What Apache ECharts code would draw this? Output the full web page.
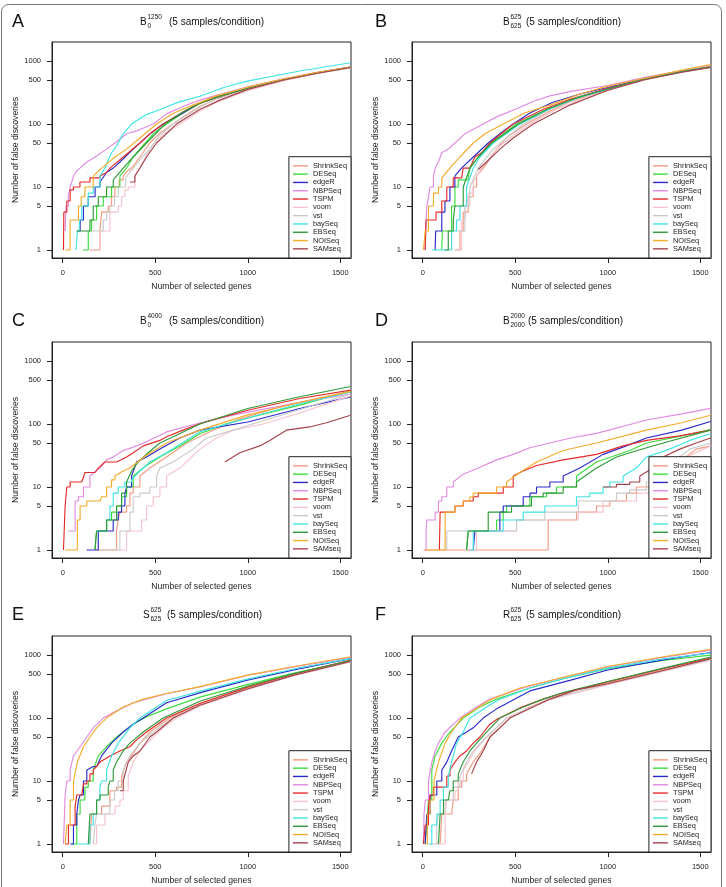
<!DOCTYPE html>
<html>
<head>
<meta charset="utf-8">
<script src="https://cdn.jsdelivr.net/npm/echarts@6/dist/echarts.min.js"></script>
<style>
  html, body { margin: 0; padding: 0; background: #fff; }
  #chart { width: 726px; height: 887px; }
</style>
</head>
<body>
<div id="chart"></div>
<script>
const METHODS = ['ShrinkSeq', 'DESeq', 'edgeR', 'NBPSeq', 'TSPM', 'voom', 'vst', 'baySeq', 'EBSeq', 'NOISeq', 'SAMseq'];
const COLORS = ['#F49A80', '#3BDC3B', '#2A2ACC', '#E28AE2', '#E52A2A', '#F8C3CC', '#CACACA', '#40E3E3', '#2F9A3A', '#F4AC2C', '#A5434A'];
const X_TICKS = [0, 500, 1000, 1500];
const Y_TICKS = [1, 5, 10, 50, 100, 500, 1000];

// [genes selected, false discoveries] knots per method, same order as METHODS
const panelA = [
  [[147,1],[201,2],[210,4],[246,5],[264,7],[282,10],[305,13],[327,15],[350,18],[372,20],[417,30],[471,50],[520,70],[597,100],[650,130],[740,190],[830,250],[920,310],[1000,360],[1190,500],[1370,640],[1556,790]],
  [[108,1],[138,2],[156,3],[183,5],[219,7],[264,10],[309,15],[345,20],[381,30],[417,40],[489,70],[561,100],[650,150],[740,210],[830,265],[1000,365],[1190,505],[1370,645],[1556,785]],
  [[80,2],[94,3],[112,5],[138,7],[175,10],[201,12],[237,17],[273,20],[309,25],[381,40],[471,70],[543,100],[650,150],[740,215],[830,265],[1000,370],[1190,510],[1370,650],[1556,800]],
  [[13,2],[18,5],[30,7],[40,10],[49,12],[58,15],[75,18],[93,20],[130,25],[175,30],[237,40],[282,50],[345,70],[400,78],[430,85],[489,100],[561,145],[650,190],[740,240],[830,285],[1000,390],[1190,520],[1370,660],[1556,810]],
  [[4,1],[6,4],[22,6],[40,9],[58,10],[93,12],[147,14],[201,15],[237,17],[255,20],[327,30],[417,50],[471,70],[543,100],[650,155],[740,215],[830,265],[1000,365],[1190,505],[1370,645],[1556,795]],
  [[147,1],[201,2],[255,4],[300,5],[318,7],[336,9],[354,10],[390,15],[417,20],[471,40],[507,55],[561,75],[633,100],[740,160],[830,220],[920,280],[1000,340],[1190,485],[1370,630],[1556,780]],
  [[138,2],[219,3],[237,4],[255,5],[280,7],[300,10],[340,14],[381,20],[430,30],[471,40],[520,65],[597,100],[740,185],[830,250],[1000,360],[1190,500],[1370,640],[1556,785]],
  [[72,1],[79,2],[90,3],[103,5],[138,8],[165,10],[201,15],[228,20],[264,35],[291,45],[327,70],[372,100],[450,140],[525,170],[630,225],[741,277],[870,380],[998,480],[1281,695],[1556,940]],
  [[76,2],[147,3],[165,5],[192,7],[237,10],[273,13],[327,20],[381,30],[453,50],[552,100],[650,155],[740,215],[830,268],[1000,372],[1190,510],[1370,650],[1556,800]],
  [[13,1],[40,3],[85,5],[100,7],[120,10],[165,15],[210,20],[282,30],[345,40],[417,60],[507,100],[600,150],[705,200],[830,280],[1000,385],[1190,520],[1370,655],[1556,800]],
  [[363,12],[390,15],[417,20],[453,30],[507,50],[615,100],[740,170],[849,240],[1000,355],[1190,495],[1370,635],[1556,790]]
];
const panelB = [
  [[174,1],[201,2],[219,4],[246,7],[273,10],[291,15],[327,20],[399,40],[450,60],[561,100],[687,160],[800,230],[1000,350],[1200,520],[1400,670],[1556,800]],
  [[103,1],[106,2],[156,5],[174,10],[192,13],[246,14],[255,20],[300,30],[372,50],[507,100],[650,160],[800,240],[1000,360],[1200,520],[1400,680],[1556,810]],
  [[67,1],[70,2],[103,4],[120,6],[147,10],[174,15],[210,20],[273,30],[354,50],[417,70],[489,100],[579,150],[700,220],[850,300],[1000,380],[1200,530],[1400,690],[1556,810]],
  [[13,1],[16,2],[22,5],[31,7],[40,10],[58,15],[67,20],[85,25],[103,35],[138,40],[174,50],[228,70],[327,100],[399,130],[507,175],[600,230],[687,280],[800,330],[1000,410],[1200,550],[1400,700],[1556,830]],
  [[13,1],[18,3],[72,4],[103,6],[130,10],[165,14],[210,14],[219,20],[255,20],[282,30],[318,35],[363,50],[489,100],[650,170],[800,250],[1000,370],[1200,520],[1400,670],[1556,800]],
  [[183,1],[210,3],[228,5],[246,8],[273,12],[318,20],[399,40],[471,60],[579,100],[720,170],[870,260],[1000,340],[1200,500],[1400,660],[1556,790]],
  [[183,2],[228,5],[255,10],[300,20],[381,40],[543,100],[700,180],[850,270],[1000,350],[1200,510],[1400,670],[1556,800]],
  [[49,1],[156,2],[183,3],[201,5],[237,10],[273,20],[309,30],[381,50],[525,100],[680,170],[850,270],[1000,355],[1200,515],[1400,670],[1556,800]],
  [[120,1],[138,2],[165,3],[174,5],[219,10],[255,20],[300,30],[372,50],[516,100],[670,170],[830,260],[1000,360],[1200,520],[1400,680],[1556,810]],
  [[4,1],[13,2],[31,5],[58,8],[85,10],[103,14],[147,20],[201,30],[273,50],[336,70],[435,100],[550,150],[687,200],[850,300],[1000,400],[1155,500],[1400,720],[1556,880]],
  [[300,19],[345,25],[417,40],[489,60],[597,100],[795,200],[1000,345],[1200,505],[1400,665],[1556,795]]
];
const panelC = [
  [[183,1],[291,2],[300,3],[309,4],[345,5],[363,8],[381,10],[417,15],[471,20],[561,30],[669,50],[813,80],[957,120],[1209,200],[1556,330]],
  [[174,1],[183,2],[237,3],[264,4],[291,5],[318,7],[345,10],[381,15],[453,22],[525,30],[633,45],[741,70],[880,100],[1000,125],[1281,200],[1556,335]],
  [[129,1],[192,2],[273,3],[300,4],[318,5],[336,8],[345,10],[372,15],[399,25],[453,30],[525,40],[633,60],[741,80],[1000,108],[1281,177],[1556,270]],
  [[31,2],[67,6],[85,7],[112,10],[147,15],[201,20],[237,27],[273,30],[327,38],[381,43],[450,52],[561,75],[741,104],[850,125],[1000,155],[1281,220],[1556,300]],
  [[4,1],[13,5],[22,10],[40,12],[103,12],[120,17],[174,17],[192,20],[228,25],[291,25],[345,30],[381,35],[435,45],[525,55],[561,63],[650,80],[741,101],[870,130],[1000,166],[1281,255],[1556,346]],
  [[300,1],[345,2],[426,3],[453,5],[489,7],[525,10],[561,15],[633,20],[669,25],[741,40],[831,60],[921,80],[1083,100],[1281,150],[1556,280]],
  [[200,1],[309,2],[363,4],[381,7],[417,8],[471,10],[507,15],[525,20],[597,25],[705,40],[777,60],[921,80],[1000,95],[1281,170],[1556,300]],
  [[183,2],[237,3],[255,5],[273,8],[300,10],[336,12],[372,13],[417,18],[471,25],[561,35],[741,75],[1000,125],[1281,210],[1556,320]],
  [[174,1],[183,2],[237,3],[291,5],[318,8],[345,12],[372,18],[408,25],[462,35],[525,50],[597,63],[741,100],[1000,177],[1281,271],[1556,395]],
  [[13,1],[79,3],[94,5],[130,6],[201,6],[210,7],[237,10],[264,13],[282,15],[327,18],[363,20],[453,32],[561,50],[741,80],[1000,140],[1281,220],[1556,330]],
  [[876,25],[957,35],[1065,45],[1119,55],[1209,80],[1335,90],[1425,105],[1556,138]]
];
const panelD = [
  [[13,1],[678,3],[831,4],[939,5],[1011,6],[1101,8],[1155,10],[1245,12],[1299,15],[1389,25],[1478,40],[1556,45]],
  [[237,1],[246,2],[399,3],[435,4],[453,5],[579,7],[669,8],[723,10],[831,15],[939,25],[1119,38],[1209,50],[1400,65],[1556,82]],
  [[273,1],[282,2],[417,4],[435,5],[543,7],[580,8],[615,10],[687,12],[759,15],[849,20],[975,33],[1100,45],[1209,60],[1400,80],[1556,110]],
  [[4,1],[18,2],[22,3],[67,4],[85,6],[103,7],[130,10],[165,12],[219,16],[300,20],[399,27],[489,33],[579,42],[687,50],[800,60],[939,71],[1100,95],[1209,116],[1400,145],[1556,177]],
  [[90,1],[94,4],[174,5],[219,6],[273,7],[300,8],[381,8],[435,10],[489,15],[543,18],[615,22],[759,27],[939,33],[1083,45],[1209,55],[1389,65],[1556,80]],
  [[250,1],[291,2],[507,3],[840,4],[975,6],[1155,8],[1227,12],[1335,20],[1425,30],[1556,45]],
  [[112,1],[130,2],[507,3],[660,4],[840,6],[1047,8],[1119,9],[1209,12],[1263,15],[1353,25],[1443,40],[1556,50]],
  [[255,1],[273,2],[435,3],[543,4],[660,5],[831,7],[903,8],[975,10],[1011,12],[1083,15],[1155,20],[1209,30],[1335,40],[1443,55],[1556,70]],
  [[237,1],[246,2],[354,4],[480,5],[588,7],[651,8],[759,10],[831,12],[939,20],[1047,30],[1119,35],[1299,50],[1556,80]],
  [[13,1],[121,4],[174,5],[219,6],[255,7],[273,8],[381,8],[399,10],[453,12],[525,17],[615,25],[759,38],[939,50],[1209,80],[1400,105],[1556,138]],
  [[975,10],[1047,11],[1119,12],[1173,15],[1245,20],[1299,30],[1389,40],[1478,50],[1556,60]]
];
const panelE = [
  [[147,1],[156,3],[210,4],[255,7],[291,8],[318,12],[345,20],[372,25],[417,40],[471,60],[579,100],[741,170],[998,300],[1250,490],[1556,800]],
  [[49,1],[76,3],[94,5],[120,8],[138,10],[165,15],[192,25],[237,35],[291,50],[381,80],[453,105],[561,140],[741,215],[998,340],[1250,520],[1556,800]],
  [[40,1],[58,2],[76,3],[85,5],[94,6],[112,10],[130,15],[165,17],[183,17],[210,25],[264,40],[327,60],[381,80],[435,100],[561,175],[759,260],[998,400],[1281,610],[1556,880]],
  [[4,1],[13,6],[22,10],[40,15],[58,25],[94,35],[130,50],[165,70],[219,100],[291,130],[381,175],[561,243],[741,311],[998,475],[1250,650],[1556,920]],
  [[13,1],[31,2],[67,4],[76,6],[103,6],[112,9],[130,10],[147,13],[165,15],[183,17],[201,20],[255,25],[309,30],[363,35],[399,45],[453,60],[561,100],[741,170],[998,310],[1250,500],[1556,830]],
  [[165,1],[183,2],[228,3],[282,4],[309,5],[327,7],[354,12],[381,20],[417,30],[489,50],[543,70],[615,100],[741,155],[998,285],[1250,470],[1556,780]],
  [[165,1],[174,2],[183,3],[255,5],[280,7],[300,10],[327,15],[363,25],[417,40],[489,60],[597,100],[741,160],[998,290],[1250,480],[1556,790]],
  [[76,1],[147,2],[165,3],[183,5],[201,8],[210,10],[237,15],[264,25],[300,40],[363,70],[417,100],[561,190],[759,275],[998,415],[1281,630],[1556,880]],
  [[138,1],[147,3],[183,5],[201,6],[246,8],[255,10],[273,15],[291,20],[327,30],[363,40],[435,60],[543,100],[741,185],[998,320],[1250,510],[1556,820]],
  [[13,1],[22,2],[40,5],[58,10],[79,20],[112,35],[147,50],[183,70],[237,100],[327,150],[435,200],[561,245],[741,315],[998,480],[1250,660],[1556,940]],
  [[309,7],[327,10],[354,20],[381,25],[417,30],[471,50],[507,60],[597,100],[741,160],[998,290],[1250,480],[1556,790]]
];
const panelF = [
  [[94,1],[103,3],[156,3],[165,5],[192,8],[210,10],[237,13],[273,20],[318,30],[363,50],[417,70],[471,100],[579,150],[687,200],[830,280],[1000,360],[1300,580],[1556,880]],
  [[13,1],[22,2],[31,5],[49,15],[67,25],[103,40],[147,60],[219,100],[309,150],[399,200],[579,300],[759,420],[1000,610],[1300,820],[1556,1000]],
  [[13,1],[22,3],[40,6],[76,10],[103,15],[130,20],[156,30],[192,50],[237,60],[273,70],[327,100],[399,140],[453,170],[579,270],[800,400],[1000,580],[1300,840],[1556,1100]],
  [[4,1],[7,3],[14,5],[31,10],[49,20],[67,30],[85,40],[121,60],[201,100],[291,150],[363,200],[543,300],[759,440],[1000,650],[1300,920],[1556,1200]],
  [[4,1],[13,2],[31,4],[40,6],[58,8],[112,8],[130,12],[147,15],[174,20],[201,25],[237,30],[273,40],[309,50],[363,80],[399,95],[525,145],[651,200],[759,250],[1000,375],[1300,610],[1556,900]],
  [[67,1],[121,3],[130,5],[174,7],[192,10],[219,15],[246,20],[282,30],[345,50],[453,100],[687,195],[1000,340],[1300,550],[1556,830]],
  [[40,1],[76,2],[85,3],[121,5],[165,8],[201,12],[237,20],[273,30],[345,50],[453,100],[687,200],[1000,350],[1300,560],[1556,850]],
  [[31,1],[49,2],[76,3],[94,5],[112,8],[138,12],[156,20],[183,40],[219,60],[255,100],[345,150],[417,200],[579,300],[759,420],[1000,620],[1300,870],[1556,1080]],
  [[85,1],[94,3],[112,5],[138,5],[147,7],[165,10],[192,13],[219,20],[255,30],[291,40],[345,60],[417,100],[543,150],[651,200],[759,255],[1000,380],[1300,620],[1556,930]],
  [[13,1],[25,3],[40,5],[61,10],[85,20],[121,40],[156,60],[210,100],[372,200],[525,300],[759,445],[1000,660],[1300,940],[1556,1230]],
  [[264,13],[291,20],[327,30],[363,50],[417,70],[471,100],[687,200],[830,280],[1000,350],[1300,570],[1556,880]]
];

const PANELS = [panelA, panelB, panelC, panelD, panelE, panelF];
const LETTERS = ['A', 'B', 'C', 'D', 'E', 'F'];
const TITLE_MAIN = ['B', 'B', 'B', 'B', 'S', 'R'];
const TITLE_SUP = ['1250', '625', '4000', '2000', '625', '625'];
const TITLE_SUB = ['0', '625', '0', '2000', '625', '625'];

// layout (pixels)
const FONT = '"Liberation Sans", Arial, Helvetica, sans-serif';
const COL_LEFT = [52, 412];
const ROW_TOP = [42, 342, 636];
const GRID_W = 299, GRID_H = 216;
const TITLE_X = [140, 503, 140, 503, 143, 503];
const PAREN_X = [169, 526, 169, 528, 167, 526];
const ROW_MID = [22, 321, 615];
const STEP_MAX = 15; // below this the counts are drawn as stairs

const chart = echarts.init(document.getElementById('chart'), null, { renderer: 'canvas' });

const grids = [], xAxes = [], yAxes = [], legends = [], series = [], graphics = [];
const plainNumber = v => String(v);

graphics.push({
  type: 'rect', silent: true, z: 0,
  shape: { x: 1.5, y: 4.5, width: 720, height: 900, r: 7 },
  style: { fill: 'none', stroke: '#777', lineWidth: 1 }
});

PANELS.forEach((panel, p) => {
  const col = p % 2, row = Math.floor(p / 2);
  const left = COL_LEFT[col], top = ROW_TOP[row];

  grids.push({ left, top, width: GRID_W, height: GRID_H, show: true, borderColor: '#222', borderWidth: 1 });

  xAxes.push({
    gridIndex: p, type: 'value', min: -58, max: 1558,
    axisLine: { show: true, onZero: false, lineStyle: { color: '#222' } },
    splitLine: { show: false },
    axisTick: { show: true, length: 5, customValues: X_TICKS, lineStyle: { color: '#222' } },
    axisLabel: { customValues: X_TICKS, formatter: plainNumber, margin: 11, fontSize: 7.5, color: '#222', fontFamily: FONT },
    name: 'Number of selected genes', nameLocation: 'middle', nameGap: 24,
    nameTextStyle: { fontSize: 8.6, color: '#222', fontFamily: FONT }
  });

  yAxes.push({
    gridIndex: p, type: 'log', logBase: 10, min: 0.7464, max: 2009,
    axisLine: { show: true, onZero: false, lineStyle: { color: '#222' } },
    splitLine: { show: false },
    axisTick: { show: true, length: 5, customValues: Y_TICKS, lineStyle: { color: '#222' } },
    axisLabel: { customValues: Y_TICKS, formatter: plainNumber, margin: 11, fontSize: 7.5, color: '#222', fontFamily: FONT },
    name: 'Number of false discoveries', nameLocation: 'middle', nameGap: 31,
    nameTextStyle: { fontSize: 8.6, color: '#222', fontFamily: FONT }
  });

  legends.push({
    data: METHODS, orient: 'vertical', selectedMode: false,
    right: 726 - (left + GRID_W), bottom: 887 - (top + GRID_H),
    icon: 'rect', itemWidth: 15, itemHeight: 1.4, itemGap: 0,
    padding: [5, 4, 5, 4],
    backgroundColor: '#fff', borderColor: '#222', borderWidth: 1, borderRadius: 0,
    textStyle: { fontSize: 7.4, lineHeight: 8.3, color: '#222', fontFamily: FONT }
  });

  panel.forEach((pts, m) => {
    let k = 0;
    while (k < pts.length && pts[k][1] <= STEP_MAX) k++;
    const base = {
      type: 'line', name: METHODS[m], xAxisIndex: p, yAxisIndex: p,
      symbol: 'none', silent: true, clip: true,
      lineStyle: { width: 1.15, color: COLORS[m] },
      itemStyle: { color: COLORS[m] }
    };
    if (k > 0) series.push(Object.assign({}, base, { step: 'end', data: pts.slice(0, k) }));
    if (k < pts.length) series.push(Object.assign({}, base, { data: pts.slice(Math.max(k - 1, 0)) }));
  });

  const midY = ROW_MID[row];
  graphics.push({
    type: 'text', silent: true, x: col === 0 ? 12 : 375, y: midY,
    style: { text: LETTERS[p], font: '18px ' + FONT, fill: '#111', textVerticalAlign: 'middle' }
  });
  const tx = TITLE_X[p];
  graphics.push({
    type: 'text', silent: true, x: tx, y: midY,
    style: { text: TITLE_MAIN[p], font: '10px ' + FONT, fill: '#111', textVerticalAlign: 'middle' }
  });
  graphics.push({
    type: 'text', silent: true, x: tx + 7.4, y: midY - 4.8,
    style: { text: TITLE_SUP[p], font: '6.5px ' + FONT, fill: '#111', textVerticalAlign: 'middle' }
  });
  graphics.push({
    type: 'text', silent: true, x: tx + 7.4, y: midY + 4.5,
    style: { text: TITLE_SUB[p], font: '6.5px ' + FONT, fill: '#111', textVerticalAlign: 'middle' }
  });
  graphics.push({
    type: 'text', silent: true, x: PAREN_X[p], y: midY,
    style: { text: '(5 samples/condition)', font: '10px ' + FONT, fill: '#111', textVerticalAlign: 'middle' }
  });
});

chart.setOption({
  animation: false,
  backgroundColor: '#fff',
  grid: grids,
  xAxis: xAxes,
  yAxis: yAxes,
  legend: legends,
  series,
  graphic: graphics
});
</script>
</body>
</html>
